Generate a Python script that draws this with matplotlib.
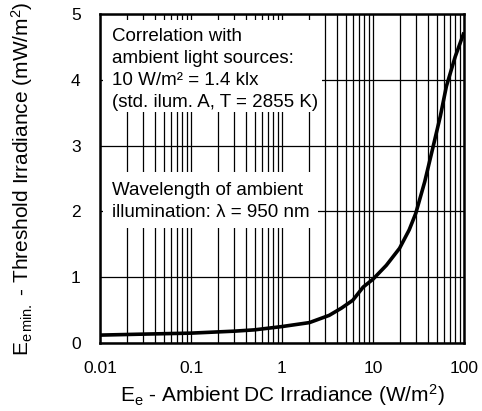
import matplotlib
matplotlib.use("Agg")
import matplotlib.pyplot as plt
from matplotlib.patches import Rectangle
from matplotlib.ticker import LogLocator, FixedLocator, NullFormatter

plt.rcParams['font.family'] = ['Liberation Sans', 'DejaVu Sans']
plt.rcParams['mathtext.fontset'] = 'custom'
plt.rcParams['mathtext.rm'] = 'Liberation Sans'
plt.rcParams['mathtext.it'] = 'Liberation Sans'

# irradiance curve
ambient = [0.01, 0.03, 0.1, 0.3, 0.5, 1, 2, 3.3, 4.5, 6, 7.8, 10, 14, 19.6, 25, 29.5, 37, 45.7, 55, 64, 80, 100]
threshold = [0.12, 0.135, 0.15, 0.18, 0.2, 0.25, 0.31, 0.42, 0.53, 0.65, 0.85, 0.97, 1.18, 1.44, 1.72, 1.97, 2.45, 2.98, 3.45, 3.9, 4.35, 4.72]

xticks = [0.01, 0.1, 1, 10, 100]
xticklabels = ["0.01", "0.1", "1", "10", "100"]
yticks = [0, 1, 2, 3, 4, 5]

fig = plt.figure(figsize=(4.82, 4.11), dpi=100)
ax = fig.add_axes([100/482, 1 - 343/411, 364/482, 329/411])

ax.set_xscale('log')
ax.set_xlim(0.01, 100)
ax.set_ylim(0, 5)

ax.xaxis.set_major_locator(FixedLocator(xticks))
ax.set_xticklabels(xticklabels)
ax.xaxis.set_minor_locator(LogLocator(base=10, subs=range(2, 10)))
ax.xaxis.set_minor_formatter(NullFormatter())
ax.set_yticks(yticks)

ax.grid(True, which='both', axis='x', color='black', lw=0.9, zorder=1)
ax.grid(True, which='major', axis='y', color='black', lw=0.9, zorder=1)
ax.set_axisbelow(True)

ax.tick_params(axis='both', which='both', length=0, labelsize=12.5)
ax.tick_params(axis='y', pad=14)
ax.tick_params(axis='x', pad=13)

for s in ax.spines.values():
    s.set_linewidth(1.8)
    s.set_zorder(5)

# white boxes behind the notes
ax.add_patch(Rectangle((0.008, 0.702), 0.602, 0.28, transform=ax.transAxes,
                       facecolor='white', edgecolor='none', zorder=2))
ax.add_patch(Rectangle((0.008, 0.35), 0.59, 0.17, transform=ax.transAxes,
                       facecolor='white', edgecolor='none', zorder=2))

ax.text(0.033, 0.958, "Correlation with\nambient light sources:\n10 W/m² = 1.4 klx\n(std. ilum. A, T = 2855 K)",
        transform=ax.transAxes, ha='left', va='top', fontsize=13.5, linespacing=1.38, zorder=3)
ax.text(0.033, 0.49, "Wavelength of ambient\nillumination: λ = 950 nm",
        transform=ax.transAxes, ha='left', va='top', fontsize=13.5, linespacing=1.38, zorder=3)

ax.plot(ambient, threshold, color='black', lw=2.6, zorder=4, solid_capstyle='butt')

ax.set_xlabel(r"E$_{\mathrm{e}}$ - Ambient DC Irradiance (W/m$^{2}$)", fontsize=15)
ax.set_ylabel(r"E$_{\mathrm{e\,min.}}$ - Threshold Irradiance (mW/m$^{2}$)", fontsize=15)
ax.xaxis.set_label_coords(0.5, -0.118)
ax.yaxis.set_label_coords(-0.178, 0.5)

fig.savefig("out.png", dpi=100)
